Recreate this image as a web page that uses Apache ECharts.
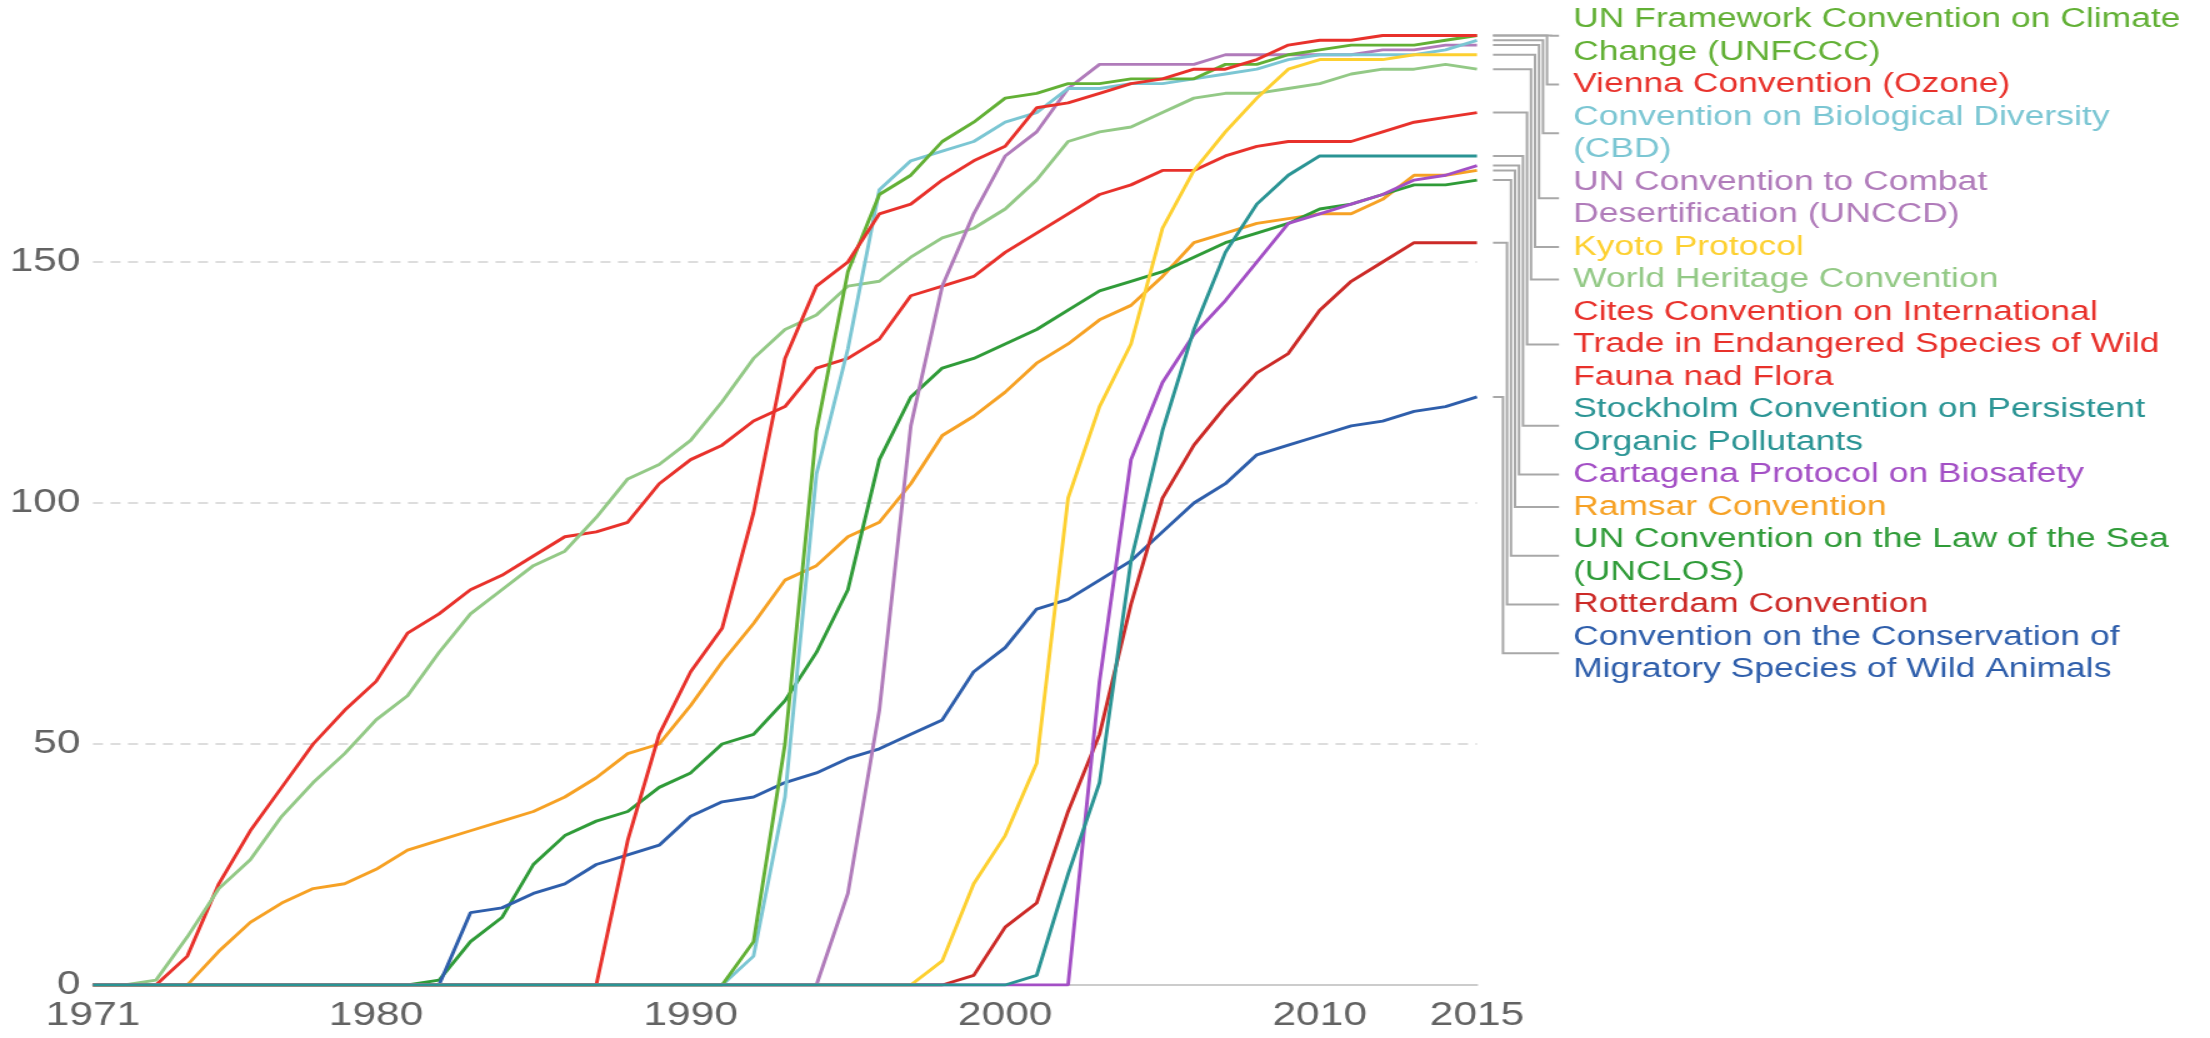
<!DOCTYPE html>
<html>
<head>
<meta charset="utf-8">
<title>Parties to environmental conventions</title>
<script src="https://cdn.jsdelivr.net/npm/echarts@6/dist/echarts.min.js"></script>
<style>
  html, body { margin: 0; padding: 0; background: #fff; overflow: hidden; }
  /* the reference is drawn a little wide, so the chart is stretched sideways */
  #chart { width: 1768px; height: 1038px; transform: scaleX(1.25); transform-origin: 0 0; }
</style>
</head>
<body>
<div id="chart"></div>
<script>
// years 1971 .. 2015
const years = [];
for (let y = 1971; y <= 2015; y++) years.push(y);

const xTicks = [1971, 1980, 1990, 2000, 2010, 2015];

// number of parties per year
const unfccc = [0,0,0,0,0,0,0,0,0,0, 0,0,0,0,0,0,0,0,0,0, 0,9,50,115,148,164,168,175,179,184, 185,187,187,188,188,188,191,191,193,194, 195,195,195,196,197];
const vienna = [0,0,0,0,0,0,0,0,0,0, 0,0,0,0,0,0,0,30,52,65, 74,98,130,145,150,160,162,167,171,174, 182,183,185,187,188,190,190,192,195,196, 196,197,197,197,197];
const cbd = [0,0,0,0,0,0,0,0,0,0, 0,0,0,0,0,0,0,0,0,0, 0,6,39,106,132,165,171,173,175,179, 181,186,186,187,187,188,189,190,192,193, 193,193,193,194,196];
const unccd = [0,0,0,0,0,0,0,0,0,0, 0,0,0,0,0,0,0,0,0,0, 0,0,0,0,19,57,116,145,160,172, 177,186,191,191,191,191,193,193,193,193, 193,194,194,195,195];
const kyoto = [0,0,0,0,0,0,0,0,0,0, 0,0,0,0,0,0,0,0,0,0, 0,0,0,0,0,0,0,5,21,31, 46,101,120,133,157,169,177,184,190,192, 192,192,193,193,193];
const heritage = [0,0,1,10,20,26,35,42,48,55, 60,69,77,82,87,90,97,105,108,113, 121,130,136,139,145,146,151,155,157,161, 167,175,177,178,181,184,185,185,186,187, 189,190,190,191,190];
const cites = [0,0,0,6,21,32,41,50,57,63, 73,77,82,85,89,93,94,96,104,109, 112,117,120,128,130,134,143,145,147,152, 156,160,164,166,169,169,172,174,175,175, 175,177,179,180,181];
const stockholm = [0,0,0,0,0,0,0,0,0,0, 0,0,0,0,0,0,0,0,0,0, 0,0,0,0,0,0,0,0,0,0, 2,23,42,88,115,136,152,162,168,172, 172,172,172,172,172];
const cartagena = [0,0,0,0,0,0,0,0,0,0, 0,0,0,0,0,0,0,0,0,0, 0,0,0,0,0,0,0,0,0,0, 0,0,63,109,125,135,142,150,158,160, 162,164,167,168,170];
const ramsar = [0,0,0,0,7,13,17,20,21,24, 28,30,32,34,36,39,43,48,50,58, 67,75,84,87,93,96,104,114,118,123, 129,133,138,141,147,154,156,158,159,160, 160,163,168,168,169];
const unclos = [0,0,0,0,0,0,0,0,0,0, 0,1,9,14,25,31,34,36,41,44, 50,52,59,69,82,109,122,128,130,133, 136,140,144,146,148,151,154,156,158,161, 162,164,166,166,167];
const rotterdam = [0,0,0,0,0,0,0,0,0,0, 0,0,0,0,0,0,0,0,0,0, 0,0,0,0,0,0,0,0,2,12, 17,36,52,79,101,112,120,127,131,140, 146,150,154,154,154];
const cms = [0,0,0,0,0,0,0,0,0,0, 0,0,15,16,19,21,25,27,29,35, 38,39,42,44,47,49,52,55,65,70, 78,80,84,88,94,100,104,110,112,114, 116,117,119,120,122];

// label text (one entry per line) and colours, in the order the labels stack
const names = [
  ['UN Framework Convention on Climate', 'Change (UNFCCC)'],
  ['Vienna Convention (Ozone)'],
  ['Convention on Biological Diversity', '(CBD)'],
  ['UN Convention to Combat', 'Desertification (UNCCD)'],
  ['Kyoto Protocol'],
  ['World Heritage Convention'],
  ['Cites Convention on International', 'Trade in Endangered Species of Wild', 'Fauna nad Flora'],
  ['Stockholm Convention on Persistent', 'Organic Pollutants'],
  ['Cartagena Protocol on Biosafety'],
  ['Ramsar Convention'],
  ['UN Convention on the Law of the Sea', '(UNCLOS)'],
  ['Rotterdam Convention'],
  ['Convention on the Conservation of', 'Migratory Species of Wild Animals']
];
const colors = ['#62b035', '#e8312b', '#7bc6d3', '#b07bba', '#fdd030', '#93c986', '#e8312b',
  '#2a9494', '#a34fc5', '#f6a124', '#2f9b38', '#cc2a27', '#2e5eab'];
const values = [unfccc, vienna, cbd, unccd, kyoto, heritage, cites, stockholm, cartagena, ramsar, unclos, rotterdam, cms];

// drawing order: the Stockholm line sits on top along the zero line
const drawOrder = [6, 5, 9, 10, 12, 11, 3, 2, 0, 1, 4, 8, 7];

const chart = echarts.init(document.getElementById('chart'));

const series = drawOrder.map(function (i) {
  return {
    name: names[i].join(' '),
    type: 'line',
    showSymbol: false,
    silent: true,
    color: colors[i],
    lineStyle: { width: 2.9, color: colors[i] },
    data: years.map(function (y, k) { return [y, values[i][k]]; })
  };
});

const axisFont = { fontFamily: 'Liberation Sans', fontSize: 34, color: '#636363' };

chart.setOption({
  animation: false,
  grid: { left: 74.4, right: 586.4, top: 21, bottom: 53 },
  xAxis: {
    type: 'value',
    min: 1971,
    max: 2015,
    axisLine: { show: true, lineStyle: { color: '#cccccc', width: 2 } },
    axisTick: { show: false },
    splitLine: { show: false },
    axisLabel: Object.assign({
      margin: 14,
      customValues: xTicks,
      formatter: function (v) { return String(v); }
    }, axisFont)
  },
  yAxis: {
    type: 'value',
    min: 0,
    max: 200,
    interval: 50,
    axisLine: { show: false },
    axisTick: { show: false },
    splitLine: {
      show: true,
      showMinLine: false,
      showMaxLine: false,
      lineStyle: { color: '#dddddd', width: 2, type: [8, 6] }
    },
    axisLabel: Object.assign({ margin: 10, showMaxLabel: false }, axisFont)
  },
  series: series
});

// labels on the right, joined to the line ends with elbow connectors
const lineGap = 32.5;
const firstLine = 19.6;
const graphics = [];
let lineNo = 0;
names.forEach(function (lines, i) {
  const last = values[i][values[i].length - 1];
  const end = chart.convertToPixel({ gridIndex: 0 }, [2015, last]);
  const midY = firstLine + (lineNo + (lines.length - 1) / 2) * lineGap;
  const elbowX = 1240.8 - i * 3.2;
  graphics.push({
    type: 'polyline',
    silent: true,
    shape: { points: [[end[0] + 12.8, end[1]], [elbowX, end[1]], [elbowX, midY], [1247.2, midY]] },
    style: { stroke: '#a8a8a8', lineWidth: 2, fill: null }
  });
  lines.forEach(function (txt) {
    graphics.push({
      type: 'text',
      silent: true,
      x: 1258.4,
      y: firstLine + lineNo * lineGap,
      style: {
        text: txt,
        fill: colors[i],
        fontFamily: 'Liberation Sans',
        fontSize: 28.4,
        align: 'left',
        verticalAlign: 'middle'
      }
    });
    lineNo++;
  });
});

chart.setOption({ graphic: graphics });
</script>
</body>
</html>
